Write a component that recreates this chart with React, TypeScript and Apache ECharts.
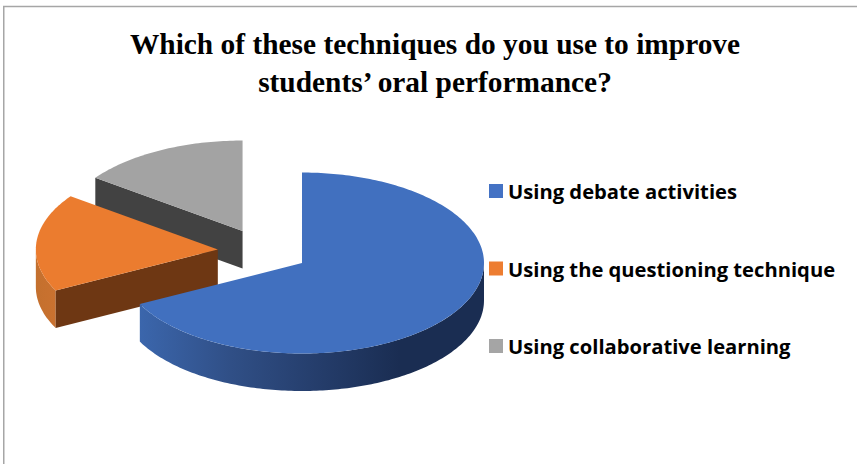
import React, { useEffect, useRef } from "react";
import * as echarts from "echarts";

const titleText = "Which of these techniques do you use to improve\nstudents’ oral performance?";
const categories = ["Using debate activities", "Using the questioning technique", "Using collaborative learning"];
const shares = [67.5, 17.5, 15];
const topColors = ["#4170BF", "#EB7C2F", "#A3A3A3"];
const legendColors = ["#4472C4", "#ED7D31", "#A5A5A5"];
const cutWallColors = ["#1A2D52", "#6E3713", "#424242"];

const CX = 263.2, CY = 251.2, RX = 182, RY = 90.5, DEPTH = 37.5, EXPLODE = 0.25;
const total = shares.reduce((a, b) => a + b, 0);
const rad = (d: number) => (d * Math.PI) / 180;
const arcPts = (cx: number, cy: number, a0: number, a1: number) => {
  const n = Math.max(2, Math.ceil(Math.abs(a1 - a0)));
  const out: number[][] = [];
  for (let i = 0; i <= n; i++) {
    const a = rad(a0 + ((a1 - a0) * i) / n);
    out.push([cx + RX * Math.sin(a), cy - RY * Math.cos(a)]);
  }
  return out;
};

function sliceChildren(idx: number) {
  const before = shares.slice(0, idx).reduce((a, b) => a + b, 0);
  const a0 = (before / total) * 360;
  const a1 = ((before + shares[idx]) / total) * 360;
  const mid = rad((a0 + a1) / 2);
  const cx = CX + EXPLODE * RX * Math.sin(mid);
  const cy = CY - EXPLODE * RY * Math.cos(mid);
  const children: any[] = [];
  // outer rim, only the part that faces the viewer (90..270 degrees)
  const w0 = Math.max(a0, 90), w1 = Math.min(a1, 270);
  if (w1 > w0) {
    const top = arcPts(cx, cy, w0, w1);
    const bottom = top.map(([x, y]) => [x, y + DEPTH]).reverse();
    const fill = idx === 0
      ? new echarts.graphic.LinearGradient(140, 0, 400, 0, [
          { offset: 0, color: "#3B66AC" },
          { offset: 0.35, color: "#304F86" },
          { offset: 0.65, color: "#263F6E" },
          { offset: 1, color: "#1A2D52" },
        ], true)
      : new echarts.graphic.LinearGradient(36, 0, 60, 0, [
          { offset: 0, color: "#C4702E" },
          { offset: 1, color: "#CB7230" },
        ], true);
    children.push({ type: "polygon", shape: { points: top.concat(bottom) }, style: { fill } });
  }
  // cut face that looks toward the viewer, along the slice's first radius
  if (idx > 0) {
    const a = rad(a0);
    const ox = cx + RX * Math.sin(a), oy = cy - RY * Math.cos(a);
    children.push({
      type: "polygon",
      shape: { points: [[cx, cy], [ox, oy], [ox, oy + DEPTH], [cx, cy + DEPTH]] },
      style: { fill: cutWallColors[idx] },
    });
  }
  // top face
  children.push({
    type: "polygon",
    shape: { points: [[cx, cy] as number[]].concat(arcPts(cx, cy, a0, a1)) },
    style: { fill: topColors[idx] },
  });
  return children;
}

export default function App() {
  const ref = useRef<HTMLDivElement>(null);
  useEffect(() => {
    if (!ref.current) return;
    const chart = echarts.init(ref.current, undefined, { renderer: "svg" });
    chart.setOption({
      animation: false,
      backgroundColor: "#FFFFFF",
      title: {
        text: titleText,
        left: 430,
        top: 20,
        textAlign: "center",
        textStyle: {
          fontFamily: "Liberation Serif",
          fontWeight: "bold",
          fontSize: 29.4,
          lineHeight: 38,
          color: "#000000",
        },
      },
      legend: {
        orient: "vertical",
        left: 484,
        top: 172,
        itemWidth: 14,
        itemHeight: 14,
        itemGap: 49.5,
        icon: "rect",
        data: categories.map((name, i) => ({ name, itemStyle: { color: legendColors[i] } })),
        textStyle: {
          fontFamily: "Open Sans",
          fontWeight: "bold",
          fontSize: 20.2,
          lineHeight: 28,
          color: "#000000",
        },
      },
      graphic: [
        {
          type: "polyline",
          shape: { points: [[3.75, 464], [3.75, 6.5], [857, 6.5]] },
          style: { stroke: "#A6A6A6", lineWidth: 1.5, fill: "none" },
        },
      ],
      series: categories.map((name, i) => ({
        type: "custom",
        name,
        coordinateSystem: "none",
        silent: true,
        clip: false,
        z: 4 - i,
        itemStyle: { color: legendColors[i] },
        data: [shares[i]],
        renderItem: () => ({ type: "group", children: sliceChildren(i) }),
      })),
    });
    return () => chart.dispose();
  }, []);
  return <div ref={ref} style={{ position: "absolute", left: 0, top: 0, width: 857, height: 464 }} />;
}
